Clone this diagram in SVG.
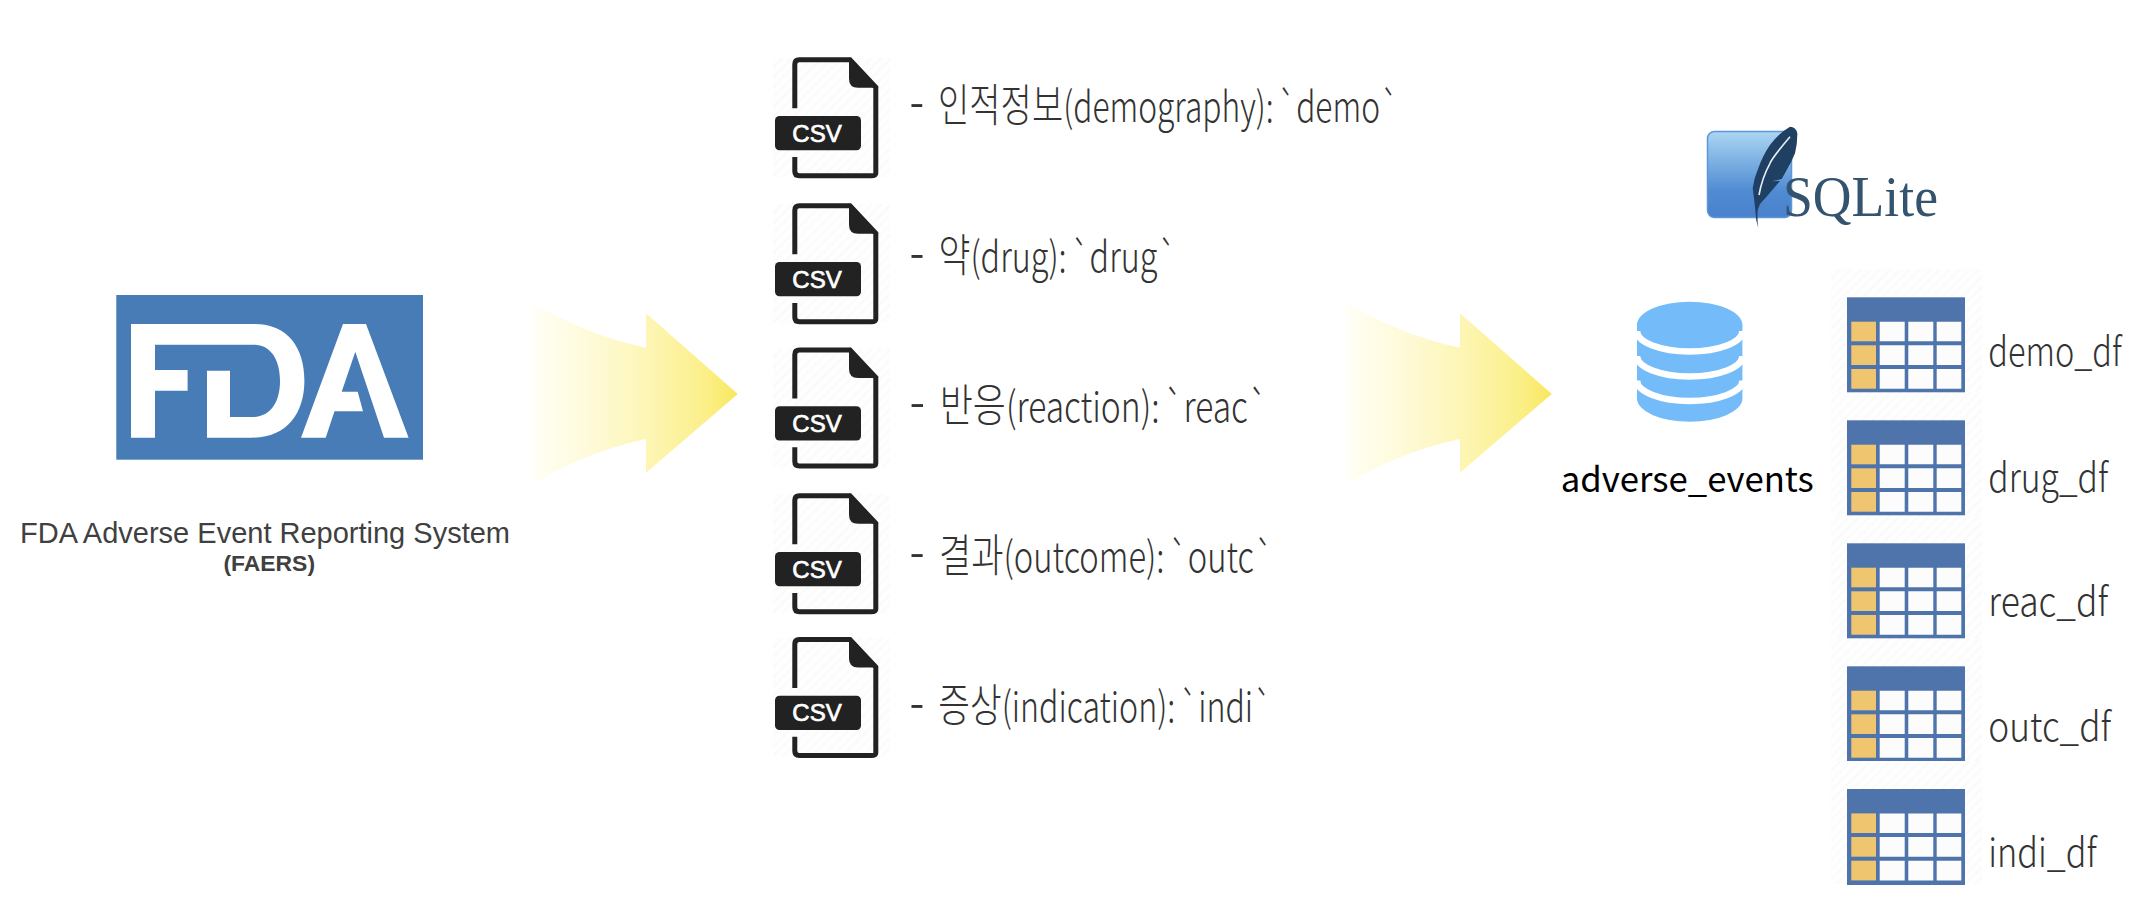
<svg xmlns="http://www.w3.org/2000/svg" xmlns:xlink="http://www.w3.org/1999/xlink" width="2150" height="914" viewBox="0 0 2150 914">
<style>
.kr{font-family:"Noto Sans CJK KR","Noto Sans",sans-serif;font-weight:300;font-size:42px;fill:#333}
.kr .dash{font-size:58px}
.kr .ko{font-size:45px}
.kr .sp{font-size:22px}
.df{font-family:"Noto Sans CJK KR","Noto Sans",sans-serif;font-weight:300;font-size:40px;fill:#333}
.csvt{font-family:"Liberation Sans",Arial,sans-serif;font-size:24px;fill:#fff;stroke:#fff;stroke-width:.7;text-anchor:middle}
.fdat{font-family:"Liberation Sans",Arial,sans-serif;fill:#404040}
.ink{fill:#222}
.frame{fill:#4f74ab}
.gold{fill:#efc56f}
.cell{fill:#fcfcfc}
</style>
<defs>
<pattern id="hatch" width="7" height="7" patternUnits="userSpaceOnUse" patternTransform="rotate(-45)">
<rect width="7" height="7" fill="#fefefe"/><rect width="7" height="1.5" fill="#f9f9f9"/>
</pattern>
<linearGradient id="arrowFill" x1="0" y1="0" x2="1" y2="0">
<stop offset="0" stop-color="#fff"/>
<stop offset="0.07" stop-color="#fffef0"/>
<stop offset="0.3" stop-color="#fefad8"/>
<stop offset="0.55" stop-color="#fdf6b8"/>
<stop offset="0.85" stop-color="#fbef88"/>
<stop offset="1" stop-color="#f9e75e"/>
</linearGradient>
<linearGradient id="sqBlue" x1="0" y1="0" x2="0" y2="1">
<stop offset="0" stop-color="#abd5f3"/>
<stop offset="0.7" stop-color="#4f8bd2"/>
<stop offset="1" stop-color="#4a80cc"/>
</linearGradient>
<path id="arrowShape" d="M528,300 Q585,335 646,347.7 V313.3 L737.8,394 L646,472.7 V439 Q585,452 528,486.7 Z"/>
<g id="fileIcon">
<rect x="773" y="0.7" width="117" height="119" fill="url(#hatch)"/>
<path d="M794.8,51 V7 Q794.8,2.5 799.3,2.5 H850 L875.8,30 V116 Q875.8,118.5 871,118.5 H799.3 Q794.8,118.5 794.8,114 V99.7" fill="none" stroke="#222" stroke-width="5"/>
<path class="ink" d="M849,0 L878.5,30.5 H858 Q849,30.5 849,21.5 Z"/>
<rect class="ink" x="775" y="58.7" width="86" height="34.3" rx="4.5"/>
</g>
<g id="tableIcon">
<rect x="1831" y="-28" width="151" height="123" fill="url(#hatch)"/>
<rect class="frame" x="1847" y="0" width="118" height="96"/>
<rect class="gold" x="1851.3" y="24.4" width="24.7" height="19.6"/>
<rect class="gold" x="1851.3" y="48" width="24.7" height="19.7"/>
<rect class="gold" x="1851.3" y="71.7" width="24.7" height="19.7"/>
<path class="cell" d="M1879.7,24.4h25v19.6h-25zM1908.3,24.4h25v19.6h-25zM1936.7,24.4h24.6v19.6h-24.6zM1879.7,48h25v19.7h-25zM1908.3,48h25v19.7h-25zM1936.7,48h24.6v19.7h-24.6zM1879.7,71.7h25v19.7h-25zM1908.3,71.7h25v19.7h-25zM1936.7,71.7h24.6v19.7h-24.6z"/>
</g>
</defs>
<rect width="2150" height="914" fill="#fff"/>

<g id="connectors">
<use href="#arrowShape" fill="url(#arrowFill)"/>
<use href="#arrowShape" x="814" fill="url(#arrowFill)"/>
</g>

<g id="node-fda">
<rect x="116.3" y="295" width="306.7" height="164.7" fill="#487cb7"/>
<path fill="#fff" d="M131,324 H254.5 C288,324 304.4,348 304.4,380.7 C304.4,414 286,437.7 252,437.7 H207 V370.7 H230 V417 H252 C270,417 280,403 280,380.7 C280,359 270,344.7 254.5,344.7 H155 V370 H187.6 V390.7 H155 V437.7 H131 Z"/>
<path fill="#fff" d="M343,324 H366 L408.6,437.7 H384 L355.3,351.7 L341.7,391.7 H357.7 L363,411.3 H334.5 L325.7,437.7 H301 Z"/>
<text class="fdat" x="20" y="543.3" font-size="30" textLength="490" lengthAdjust="spacingAndGlyphs">FDA Adverse Event Reporting System</text>
<text class="fdat" x="223.5" y="570.7" font-size="22" font-weight="700" textLength="91.5" lengthAdjust="spacingAndGlyphs">(FAERS)</text>
</g>

<g id="node-csv-demo">
<use href="#fileIcon" y="57.3"/>
<text class="csvt" x="817" y="141.7">CSV</text>
<text class="kr" transform="translate(909.6,121.7) scale(.756,1)"><tspan class="dash">-</tspan> <tspan class="ko" dx="9">인적정보</tspan>(demography):<tspan class="sp"> </tspan>`demo`</text>
</g>
<g id="node-csv-drug">
<use href="#fileIcon" y="203.3"/>
<text class="csvt" x="817" y="287.7">CSV</text>
<text class="kr" transform="translate(909.6,271.7) scale(.77,1)"><tspan class="dash">-</tspan> <tspan class="ko" dx="9">약</tspan>(drug):<tspan class="sp"> </tspan>`drug`</text>
</g>
<g id="node-csv-reac">
<use href="#fileIcon" y="347.6"/>
<text class="csvt" x="817" y="432">CSV</text>
<text class="kr" transform="translate(909.6,421.7) scale(.8,1)"><tspan class="dash">-</tspan> <tspan class="ko" dx="9">반응</tspan>(reaction):<tspan class="sp"> </tspan>`reac`</text>
</g>
<g id="node-csv-outc">
<use href="#fileIcon" y="493.3"/>
<text class="csvt" x="817" y="577.7">CSV</text>
<text class="kr" transform="translate(909.6,571.7) scale(.78,1)"><tspan class="dash">-</tspan> <tspan class="ko" dx="9">결과</tspan>(outcome):<tspan class="sp"> </tspan>`outc`</text>
</g>
<g id="node-csv-indi">
<use href="#fileIcon" y="637"/>
<text class="csvt" x="817" y="721.4">CSV</text>
<text class="kr" transform="translate(909.6,721.7) scale(.765,1)"><tspan class="dash">-</tspan> <tspan class="ko" dx="9">증상</tspan>(indication):<tspan class="sp"> </tspan>`indi`</text>
</g>

<g id="node-sqlite">
<rect x="1707.5" y="131.5" width="84" height="86" rx="7" fill="url(#sqBlue)" stroke="#5b97da" stroke-width="1.5"/>
<path fill="#1f3f63" d="M1790,126.7 Q1796,127 1797.3,133.3 Q1797.5,143 1795,153.3 Q1791.5,162 1786.7,170 L1781.7,179 L1771.7,181.3 L1780,181 L1768,195 L1760,204 L1757.7,210 Q1757,220 1758.3,228 Q1755.5,220 1755.3,210 L1754,198 L1752.7,188.3 Q1754,178 1758.3,168.3 Q1763,155 1770,145 Q1779,133 1790,126.7 Z"/>
<path fill="none" stroke="#e8eef4" stroke-width="1.6" d="M1790,136.7 Q1772,158 1770,163.3 Q1762,178 1759,195"/>
<text x="1783" y="216" font-family="'Liberation Serif',serif" font-size="56" fill="#33536f" textLength="155" lengthAdjust="spacingAndGlyphs">SQLite</text>
</g>

<g id="node-database">
<path fill="#74bbf9" d="M1637,325 V398.4 A52.7,23.3 0 0 0 1742.4,398.4 V325 Z"/>
<ellipse cx="1689.7" cy="325" rx="52.7" ry="23.3" fill="#74bbf9"/>
<path fill="none" stroke="#fff" stroke-width="6.5" d="M1637,331 A52.7,20.5 0 0 0 1742.4,331 M1637,356 A52.7,20.5 0 0 0 1742.4,356 M1637,380.5 A52.7,20.5 0 0 0 1742.4,380.5"/>
<text x="1560.8" y="491.7" font-family="'Noto Sans CJK KR','Noto Sans',sans-serif" font-size="35" fill="#000" textLength="253" lengthAdjust="spacingAndGlyphs">adverse_events</text>
</g>

<g id="node-demo-df">
<use href="#tableIcon" y="297.3"/>
<text class="df" x="1988.3" y="366" textLength="133.4" lengthAdjust="spacingAndGlyphs">demo_df</text>
</g>
<g id="node-drug-df">
<use href="#tableIcon" y="420.3"/>
<text class="df" x="1988.3" y="491.7" textLength="119.7" lengthAdjust="spacingAndGlyphs">drug_df</text>
</g>
<g id="node-reac-df">
<use href="#tableIcon" y="543.3"/>
<text class="df" x="1988.3" y="616" textLength="119.7" lengthAdjust="spacingAndGlyphs">reac_df</text>
</g>
<g id="node-outc-df">
<use href="#tableIcon" y="666.3"/>
<text class="df" x="1988.3" y="741" textLength="122.7" lengthAdjust="spacingAndGlyphs">outc_df</text>
</g>
<g id="node-indi-df">
<use href="#tableIcon" y="789"/>
<text class="df" x="1988.3" y="866.7" textLength="108.4" lengthAdjust="spacingAndGlyphs">indi_df</text>
</g>
</svg>
